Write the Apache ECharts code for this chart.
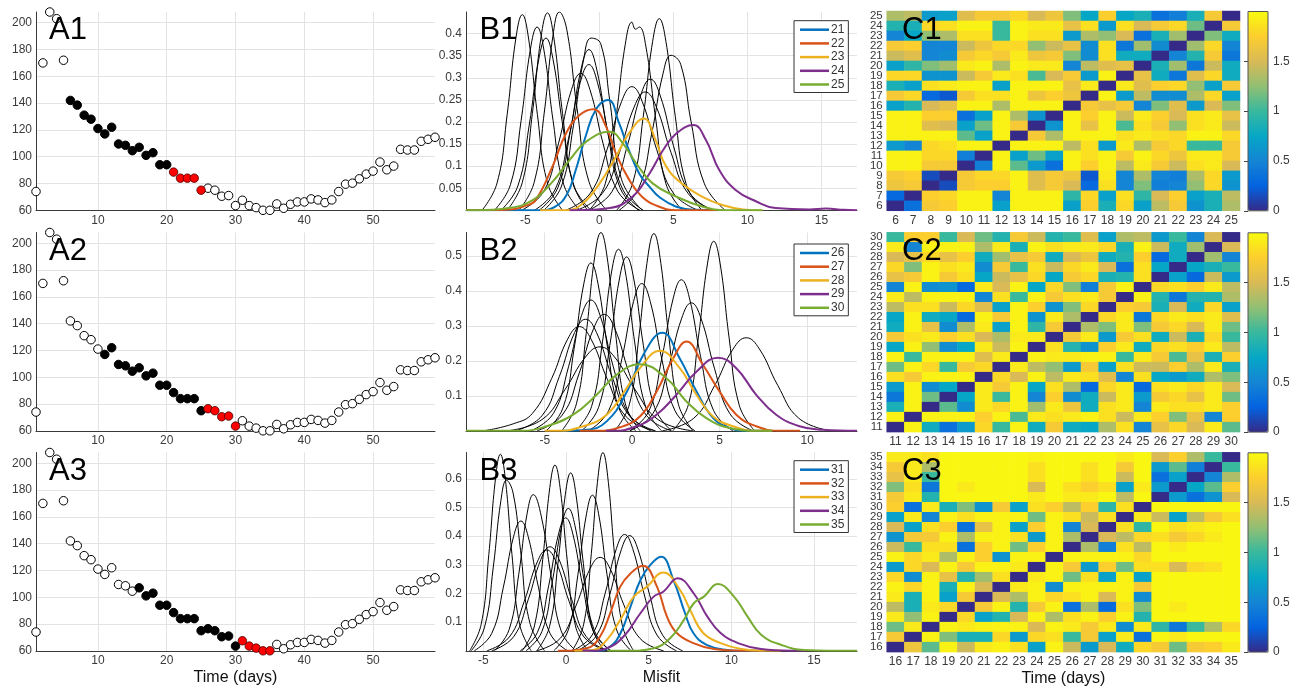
<!DOCTYPE html>
<html><head><meta charset="utf-8">
<script src="https://cdn.jsdelivr.net/npm/echarts@6/dist/echarts.min.js"></script>
<style>html,body{margin:0;padding:0;background:#fff}#c{width:1298px;height:692px}</style>
</head><body><div id="c"></div>
<script>
// ---------------- DATA ----------------
const days = [1,2,3,4,5,6,7,8,9,10,11,12,13,14,15,16,17,18,19,20,21,22,23,24,25,26,27,28,29,30,31,32,33,34,35,36,37,38,39,40,41,42,43,44,45,46,47,48,49,50,51,52,53,54,55,56,57,58,59];
const counts = [74,170,208,203,172,142,138.5,131,128,121,117,122,109.5,108.5,104.5,107,101,103,94,94,88.5,84,84,84,75,76.5,75,70.5,71,63.5,67.5,63.5,62,60,60,64.75,61.5,64.5,66.25,66.25,68.5,67.75,65.75,67.75,74,79.5,80.25,83.5,87,89.25,96,90.25,93,105.5,105,105,111.5,113,114.5];
const fitWindows = [[6,20],[11,25],[16,30]];
const predWindows = [[21,25],[26,30],[31,35]];
const aXTicks = [10,20,30,40,50];
const aYTicks = [60,80,100,120,140,160,180,200];

const b1Black = [
[[-7.92,0],[-6.9,0.062],[-6.22,0.217],[-5.63,0.39],[-5.2,0.443],[-4.78,0.39],[-4.18,0.217],[-3.5,0.062],[-2.48,0]],
[[-7.08,0],[-6.0,0.058],[-5.28,0.203],[-4.65,0.365],[-4.2,0.415],[-3.75,0.365],[-3.12,0.203],[-2.4,0.058],[-1.32,0]],
[[-6.64,0],[-5.5,0.055],[-4.74,0.191],[-4.08,0.343],[-3.6,0.39],[-3.13,0.343],[-2.46,0.191],[-1.7,0.055],[-0.56,0]],
[[-6.22,0],[-5.2,0.063],[-4.52,0.219],[-3.93,0.393],[-3.5,0.447],[-3.08,0.393],[-2.48,0.219],[-1.8,0.063],[-0.78,0]],
[[-5.42,0],[-4.4,0.063],[-3.72,0.22],[-3.13,0.395],[-2.7,0.449],[-2.2,0.41],[-1.5,0.23],[-0.7,0.065],[0.5,0]],
[[-5.25,0],[-3.75,0.043],[-2.75,0.152],[-1.88,0.273],[-1.25,0.31],[-0.63,0.273],[0.25,0.152],[1.25,0.043],[2.75,0]],
[[-3.75,0],[-2.55,0.055],[-1.75,0.191],[-1.05,0.343],[-0.55,0.39],[0.1,0.377],[0.7,0.25],[1.5,0.07],[2.9,0]],
[[-4.06,0],[-2.8,0.051],[-1.96,0.178],[-1.23,0.32],[-0.7,0.364],[-0.18,0.32],[0.56,0.178],[1.4,0.051],[2.66,0]],
[[-4.38,0],[-3.0,0.046],[-2.08,0.162],[-1.28,0.29],[-0.7,0.33],[-0.13,0.29],[0.68,0.162],[1.6,0.046],[2.98,0]],
[[-0.68,0],[0.4,0.06],[1.12,0.209],[1.75,0.375],[2.2,0.426],[2.45,0.41],[2.7,0.415],[3.15,0.37],[3.8,0.209],[4.5,0.06],[5.6,0]],
[[-2.28,0],[-0.6,0.039],[0.52,0.137],[1.5,0.246],[2.2,0.28],[2.9,0.246],[3.88,0.137],[5.0,0.039],[6.68,0]],
[[-1.54,0],[0.2,0.038],[1.36,0.131],[2.38,0.236],[3.1,0.268],[3.83,0.236],[4.84,0.131],[6.0,0.038],[7.74,0]],
[[-0.71,0],[0.85,0.042],[1.89,0.146],[2.8,0.261],[3.45,0.297],[4.1,0.261],[5.01,0.146],[6.05,0.042],[7.61,0]],
[[1.17,0],[2.25,0.061],[2.97,0.213],[3.6,0.382],[4.05,0.434],[4.5,0.382],[5.13,0.213],[5.85,0.061],[6.93,0]],
[[1.33,0],[2.65,0.049],[3.53,0.172],[4.3,0.309],[4.85,0.351],[5.5,0.33],[6.2,0.2],[7.1,0.06],[8.5,0]]
];
const b1Names = ['21','22','23','24','25'];
const b1Color = [
[[-9,0],[-4,0],[-3,0.008],[-2.2,0.035],[-1.6,0.09],[-0.9,0.17],[-0.2,0.23],[0.6,0.25],[1.35,0.196],[2.0,0.136],[2.7,0.083],[3.4,0.053],[4.05,0.03],[5.2,0.008],[6.5,0.001],[8,0]],
[[-9,0],[-6,0.002],[-5,0.01],[-4.3,0.023],[-3.15,0.1],[-2.25,0.174],[-1.35,0.215],[-0.4,0.229],[0.45,0.19],[1.1,0.13],[2.0,0.07],[2.9,0.03],[4.05,0.008],[5.2,0],[8,0]],
[[-4,0],[-2.25,0],[-1.1,0.016],[0,0.06],[1.1,0.12],[2.0,0.174],[3.0,0.208],[3.8,0.159],[4.5,0.1],[5.6,0.06],[7.0,0.03],[8.3,0.012],[9.7,0.002],[11,0]],
[[-2,0],[-1.6,0],[0.7,0.005],[2.25,0.031],[3.4,0.084],[4.3,0.136],[5.2,0.174],[6.35,0.193],[7.2,0.159],[8.1,0.091],[9.2,0.046],[10.6,0.02],[11.9,0.005],[14.2,0.002],[15.3,0.004],[16.5,0.001],[17.4,0]],
[[-9,0],[-8.3,0],[-6.1,0.005],[-4.5,0.023],[-3.15,0.065],[-2.0,0.114],[-0.9,0.155],[0.7,0.178],[1.6,0.151],[2.5,0.106],[3.6,0.061],[5.2,0.031],[7.0,0.008],[8.6,0],[11,0]]
];

const b2Black = [
[[-4.03,0],[-3.19,0.077],[-2.63,0.278],[-2.14,0.499],[-1.79,0.567],[-1.44,0.499],[-0.95,0.278],[-0.39,0.077],[0.45,0]],
[[-4.92,0],[-3.96,0.065],[-3.32,0.235],[-2.76,0.422],[-2.36,0.48],[-1.96,0.422],[-1.4,0.235],[-0.76,0.065],[0.2,0]],
[[-3.24,0],[-2.32,0.07],[-1.7,0.254],[-1.17,0.457],[-0.78,0.519],[-0.4,0.457],[0.14,0.254],[0.76,0.07],[1.68,0]],
[[-2.88,0],[-1.92,0.067],[-1.28,0.244],[-0.72,0.437],[-0.32,0.497],[0.08,0.437],[0.64,0.244],[1.28,0.067],[2.24,0]],
[[-1.0,0],[-0.16,0.076],[0.4,0.276],[0.89,0.496],[1.24,0.564],[1.59,0.496],[2.08,0.276],[2.64,0.076],[3.48,0]],
[[2.32,0],[3.2,0.073],[3.78,0.266],[4.3,0.477],[4.66,0.542],[5.03,0.477],[5.54,0.266],[6.12,0.073],[7.0,0]],
[[-0.13,0],[0.97,0.058],[1.71,0.212],[2.35,0.38],[2.81,0.432],[3.27,0.38],[3.91,0.212],[4.65,0.058],[5.75,0]],
[[-0.14,0],[1.18,0.049],[2.06,0.179],[2.83,0.322],[3.38,0.366],[3.93,0.322],[4.7,0.179],[5.58,0.049],[6.9,0]],
[[-2.49,0],[-1.35,0.057],[-0.59,0.206],[0.08,0.37],[0.55,0.421],[1.03,0.37],[1.69,0.206],[2.45,0.057],[3.59,0]],
[[-5.78,0],[-4.5,0.05],[-3.64,0.183],[-2.9,0.329],[-2.36,0.374],[-1.83,0.329],[-1.08,0.183],[-0.22,0.05],[1.06,0]],
[[-6.66,0],[-5.16,0.043],[-4.16,0.156],[-3.29,0.281],[-2.66,0.319],[-2.04,0.281],[-1.16,0.156],[-0.16,0.043],[1.34,0]],
[[-8.5,0],[-6.8,0.02],[-5.7,0.05],[-4.6,0.15],[-3.69,0.262],[-3.02,0.298],[-2.35,0.262],[-1.41,0.146],[-0.34,0.04],[1.27,0]],
[[-5.44,0],[-4.0,0.045],[-3.04,0.163],[-2.2,0.293],[-1.6,0.333],[-1.0,0.293],[-0.16,0.163],[0.8,0.045],[2.24,0]],
[[-7.14,0],[-5.16,0.032],[-3.84,0.118],[-2.67,0.211],[-1.84,0.24],[-1.01,0.211],[0.16,0.118],[1.48,0.032],[3.46,0]],
[[1.72,0],[3.52,0.036],[4.72,0.13],[5.77,0.234],[6.52,0.266],[7.27,0.234],[8.32,0.13],[9.52,0.036],[11.32,0]]
];
const b2Names = ['26','27','28','29','30'];
const b2Color = [
[[-4,0],[-2.6,0.003],[-1.46,0.027],[-0.32,0.11],[0.63,0.217],[1.73,0.28],[2.72,0.207],[3.67,0.113],[4.62,0.037],[5.57,0.008],[6.5,0],[8,0]],
[[-3,0],[-2.0,0],[-0.7,0.01],[0.44,0.041],[1.39,0.112],[2.34,0.207],[3.1,0.255],[4.05,0.188],[5.0,0.112],[5.95,0.046],[7.09,0.013],[8.4,0],[9.6,0]],
[[-5,0],[-4.3,0],[-2.8,0.013],[-1.46,0.046],[-0.32,0.122],[0.44,0.179],[1.58,0.229],[2.72,0.179],[3.67,0.103],[4.62,0.041],[5.76,0.013],[7.1,0],[8,0]],
[[-1.5,0],[-1.08,0],[0.25,0.013],[1.39,0.046],[2.53,0.103],[3.67,0.169],[4.9,0.209],[5.95,0.179],[7.09,0.103],[8.23,0.046],[9.56,0.013],[10.9,0.003],[12.85,0]],
[[-9.5,0],[-6.2,0],[-4.9,0.013],[-3.37,0.046],[-2.03,0.103],[-0.9,0.16],[0.44,0.19],[1.96,0.15],[3.1,0.084],[4.24,0.036],[5.57,0.008],[7.3,0],[8,0]]
];

const b3Black = [
[[-5.83,0],[-5.13,0.093],[-4.67,0.336],[-4.26,0.604],[-3.97,0.686],[-3.68,0.604],[-3.27,0.336],[-2.81,0.093],[-2.11,0]],
[[-5.74,0],[-4.94,0.08],[-4.4,0.292],[-3.94,0.524],[-3.6,0.595],[-3.2,0.55],[-2.75,0.35],[-2.2,0.1],[-1.3,0]],
[[-5.55,0],[-4.49,0.061],[-3.79,0.222],[-3.17,0.399],[-2.73,0.453],[-2.29,0.399],[-1.67,0.222],[-0.97,0.061],[0.09,0]],
[[-4.32,0],[-3.44,0.074],[-2.86,0.267],[-2.35,0.48],[-1.98,0.545],[-1.5,0.47],[-0.9,0.26],[-0.3,0.07],[0.6,0]],
[[-2.65,0],[-1.91,0.087],[-1.41,0.318],[-0.98,0.57],[-0.67,0.648],[-0.36,0.57],[0.07,0.318],[0.57,0.087],[1.31,0]],
[[-1.77,0],[-1.0,0.084],[-0.49,0.304],[-0.04,0.546],[0.28,0.621],[0.6,0.546],[1.05,0.304],[1.56,0.084],[2.33,0]],
[[-2.42,0],[-1.46,0.067],[-0.82,0.244],[-0.26,0.437],[0.14,0.497],[0.54,0.437],[1.1,0.244],[1.74,0.067],[2.7,0]],
[[-2.77,0],[-1.74,0.063],[-1.05,0.227],[-0.45,0.408],[-0.02,0.464],[0.41,0.408],[1.01,0.227],[1.7,0.063],[2.73,0]],
[[-4.49,0],[-3.17,0.049],[-2.29,0.178],[-1.52,0.319],[-0.97,0.363],[-0.42,0.319],[0.35,0.178],[1.23,0.049],[2.55,0]],
[[-4.79,0],[-3.43,0.048],[-2.53,0.172],[-1.74,0.31],[-1.17,0.352],[-0.6,0.31],[0.19,0.172],[1.09,0.048],[2.45,0]],
[[-0.74,0],[0.14,0.073],[0.72,0.266],[1.24,0.478],[1.6,0.543],[1.97,0.478],[2.48,0.266],[3.06,0.073],[3.94,0]],
[[0.37,0],[1.07,0.093],[1.53,0.339],[1.94,0.609],[2.23,0.692],[2.52,0.609],[2.93,0.339],[3.39,0.093],[4.09,0]],
[[-1.78,0],[-0.34,0.044],[0.62,0.16],[1.46,0.287],[2.06,0.326],[2.66,0.287],[3.5,0.16],[4.46,0.044],[5.9,0]],
[[0.4,0],[1.58,0.055],[2.36,0.199],[3.05,0.357],[3.54,0.406],[4.03,0.357],[4.72,0.199],[5.5,0.055],[6.68,0]],
[[0.65,0],[1.85,0.054],[2.65,0.197],[3.35,0.354],[3.85,0.402],[4.35,0.354],[5.05,0.197],[5.85,0.054],[7.05,0]]
];
const b3Names = ['31','32','33','34','35'];
const b3Color = [
[[1.0,0],[1.86,0],[2.67,0.015],[3.3,0.062],[3.9,0.154],[4.5,0.247],[5.1,0.3],[5.75,0.328],[6.5,0.247],[7.2,0.131],[7.7,0.062],[8.5,0.021],[9.75,0.003],[10.6,0],[12,0]],
[[-0.5,0],[-0.36,0],[1.26,0.009],[2.06,0.05],[2.67,0.131],[3.28,0.224],[3.9,0.27],[4.64,0.297],[5.5,0.224],[6.1,0.12],[6.7,0.062],[7.7,0.027],[8.95,0.006],[10.6,0],[12,0]],
[[0.5,0],[0.85,0],[1.66,0.003],[2.47,0.038],[3.28,0.108],[4.1,0.189],[4.9,0.224],[5.87,0.273],[6.9,0.212],[7.5,0.143],[8.3,0.062],[9.35,0.027],[10.6,0.006],[11.8,0],[13,0]],
[[1.0,0],[1.46,0],[2.47,0.009],[3.48,0.05],[4.5,0.131],[5.3,0.189],[5.9,0.207],[6.76,0.253],[7.73,0.2],[8.54,0.12],[9.35,0.062],[10.4,0.027],[11.8,0.006],[13.6,0],[14.5,0]],
[[2.5,0],[3.7,0],[5.3,0.009],[6.3,0.044],[7.13,0.108],[7.73,0.166],[8.34,0.189],[9.19,0.233],[10.16,0.189],[10.97,0.12],[11.8,0.056],[13.0,0.021],[14.4,0.003],[17.6,0]]
];
const bColors = ['#0072bd','#d95319','#edb120','#7e2f8e','#77ac30'];
const b1XTicks = [-5,0,5,10,15], b1YTicks = [0.05,0.1,0.15,0.2,0.25,0.3,0.35,0.4];
const b2XTicks = [-5,0,5,10], b2YTicks = [0.1,0.2,0.3,0.4,0.5];
const b3XTicks = [-5,0,5,10,15], b3YTicks = [0.1,0.2,0.3,0.4,0.5,0.6];

// heatmap rows listed from top row to bottom row
const c1Labels = ['6','7','8','9','10','11','12','13','14','15','16','17','18','19','20','21','22','23','24','25'];
const c1Rows = [
[1.35,1.4,0.65,0.7,1.55,1.7,1.7,1.8,1.5,1.65,1.2,0.75,1.75,0.75,0.85,0.35,0.45,0.85,1.7,0],
[0.9,0.85,1.8,1.85,1.95,1.95,1.0,1.95,1.9,1.9,1.6,1.85,0.65,1.85,1.5,1.7,1.8,1.15,0,1.7],
[0.5,0.75,1.25,1.35,1.85,1.85,1.0,1.95,1.85,1.85,0.65,1.35,1.25,1.5,0.35,0.85,1.3,0,1.2,0.8],
[1.7,1.75,0.5,0.5,1.45,1.65,1.8,1.8,1.25,1.45,1.6,0.55,1.85,0.4,1.3,0.55,0,1.3,1.8,0.5],
[1.45,1.55,0.5,0.55,1.7,1.8,1.7,1.9,1.65,1.7,1.2,0.55,1.85,0.8,0.8,0,0.5,0.9,1.7,0.4],
[0.7,0.95,1.2,1.3,1.9,1.95,1.35,1.95,1.9,1.9,0.5,1.4,1.55,1.6,0,0.85,1.3,0.4,1.45,0.8],
[1.8,1.8,0.6,0.6,1.45,1.7,1.9,1.85,1.05,1.5,1.7,0.65,1.95,0,1.6,0.8,0.4,1.55,1.8,0.8],
[0.85,0.7,1.85,1.9,1.95,1.95,0.7,1.95,1.95,1.95,1.6,1.9,0,1.9,1.55,1.75,1.8,1.25,0.7,1.7],
[1.7,1.8,0.3,0.2,1.7,1.85,1.85,1.95,1.65,1.75,1.65,0,1.95,0.65,1.4,0.55,0.55,1.35,1.8,0.7],
[0.7,0.9,1.5,1.6,1.95,1.95,1.35,1.95,1.95,1.95,0,1.7,1.6,1.7,0.5,1.2,1.55,0.65,1.5,1.2],
[1.95,1.95,1.75,1.75,0.35,0.7,1.95,1.35,0.6,0,1.95,1.75,1.95,1.45,1.9,1.75,1.5,1.85,1.9,1.6],
[1.95,1.95,1.55,1.5,0.7,1.15,1.95,1.7,0,0.6,1.95,1.6,1.95,1.05,1.85,1.7,1.25,1.85,1.9,1.45],
[1.95,1.95,1.95,1.95,1.1,0.7,1.95,0,1.7,1.35,1.95,1.95,1.95,1.85,1.9,1.85,1.8,1.95,1.95,1.8],
[0.65,0.5,1.8,1.85,1.95,1.95,0,1.95,1.95,1.95,1.4,1.85,0.65,1.9,1.35,1.7,1.8,1.0,1.0,1.7],
[1.95,1.95,1.8,1.8,0.45,0,1.95,0.7,1.15,0.7,1.95,1.85,1.95,1.7,1.95,1.8,1.65,1.9,1.9,1.7],
[1.95,1.95,1.7,1.7,0,0.45,1.95,1.1,0.65,0.35,1.95,1.75,1.95,1.4,1.9,1.7,1.45,1.85,1.9,1.5],
[1.7,1.75,0.15,0,1.7,1.8,1.8,1.95,1.55,1.7,1.65,0.2,1.9,0.5,1.35,0.5,0.45,1.35,1.8,0.65],
[1.65,1.7,0,0.15,1.7,1.75,1.75,1.95,1.55,1.7,1.5,0.3,1.85,0.5,1.2,0.45,0.5,1.25,1.8,0.6],
[0.3,0,1.75,1.8,1.95,1.95,0.5,1.95,1.95,1.95,0.95,1.8,0.7,1.85,0.95,1.5,1.75,0.7,0.85,1.4],
[0,0.35,1.7,1.75,1.95,1.95,0.7,1.95,1.95,1.95,0.7,1.75,0.85,1.8,0.7,1.4,1.7,0.6,0.85,1.35]
];
const c2Labels = ['11','12','13','14','15','16','17','18','19','20','21','22','23','24','25','26','27','28','29','30'];
const c2Rows = [
[1.0,1.75,1.75,1.0,1.5,1.15,0.9,1.7,1.45,0.9,1.0,1.55,0.7,1.35,1.4,0.65,1.0,0.5,1.5,0],
[1.9,0.5,1.95,1.95,1.95,1.35,1.9,0.85,1.95,1.85,1.9,1.9,1.8,0.85,1.95,1.45,0.8,1.3,0,1.5],
[1.5,1.6,1.8,1.6,1.75,0.8,1.3,1.6,1.7,0.8,1.5,1.65,0.8,0.9,1.75,0.3,0.8,0,1.3,0.5],
[1.8,1.2,1.95,1.85,1.9,0.55,1.7,1.0,1.85,1.45,1.8,1.9,1.5,0.35,1.85,0.75,0,0.75,0.85,1.0],
[1.6,1.7,1.95,1.7,1.85,0.75,1.45,1.6,1.8,0.75,1.7,1.8,0.85,0.9,1.85,0,0.7,0.3,1.45,0.65],
[0.5,1.95,0.55,0.6,0.3,1.9,1.5,1.95,0.75,1.8,1.2,0.45,1.7,1.95,0,1.8,1.85,1.75,1.9,1.4],
[1.9,1.4,1.95,1.95,1.95,0.5,1.85,1.0,1.95,1.7,1.85,1.9,1.7,0,1.95,0.9,0.4,0.9,0.9,1.35],
[1.4,1.85,1.85,1.45,1.8,1.55,0.7,1.95,1.75,0.6,1.2,1.8,0,1.75,1.7,0.85,1.5,0.8,1.8,0.7],
[0.75,1.95,0.8,0.75,0.3,1.95,1.7,1.95,0.6,1.9,1.35,0,1.8,1.9,0.4,1.8,1.9,1.85,1.9,1.55],
[0.8,1.95,1.6,0.55,1.35,1.9,0.7,1.95,0.95,1.7,0,1.35,1.2,1.9,1.2,1.7,1.8,1.5,1.9,1.15],
[1.7,1.85,1.9,1.75,1.85,1.5,1.35,1.9,1.9,0,1.7,1.9,0.65,1.7,1.85,0.8,1.45,0.85,1.8,1.0],
[0.75,1.95,1.25,0.55,0.75,1.9,1.45,1.95,0,1.85,0.9,0.6,1.75,1.9,0.8,1.8,1.85,1.75,1.9,1.4],
[1.95,1.0,1.95,1.95,1.95,1.55,1.9,0,1.95,1.9,1.9,1.95,1.95,1.0,1.9,1.7,1.05,1.6,0.85,1.75],
[1.15,1.95,1.8,1.0,1.7,1.8,0,1.9,1.4,1.25,0.65,1.7,0.7,1.85,1.45,1.45,1.75,1.35,1.9,0.85],
[1.85,1.7,1.95,1.95,1.95,0,1.8,1.5,1.95,1.4,1.9,1.85,1.55,0.5,1.85,0.75,0.65,0.8,1.35,1.2],
[0.65,1.95,0.55,0.75,0,1.9,1.7,1.95,0.75,1.85,1.35,0.3,1.8,1.9,0.3,1.85,1.9,1.8,1.9,1.5],
[0.4,1.95,1.15,0,0.75,1.9,1.0,1.95,0.5,1.75,0.55,0.8,1.45,1.9,0.65,1.7,1.8,1.6,1.9,1.15],
[0.85,1.95,0,1.1,0.55,1.9,1.8,1.95,1.3,1.9,1.65,0.8,1.85,1.9,0.5,1.9,1.85,1.85,1.9,1.75],
[1.95,0,1.95,1.95,1.95,1.75,1.95,1.05,1.9,1.85,1.9,1.95,1.85,1.45,1.9,1.75,1.2,1.6,0.5,1.75],
[0,1.95,0.8,0.35,0.65,1.8,1.0,1.95,0.8,1.7,0.8,0.75,1.35,1.85,0.5,1.6,1.8,1.5,1.9,1.1]
];
const c3Labels = ['16','17','18','19','20','21','22','23','24','25','26','27','28','29','30','31','32','33','34','35'];
const c3Rows = [
[1.9,1.9,1.85,1.97,1.97,1.97,1.97,1.97,1.95,1.97,1.97,1.97,1.97,1.9,1.97,1.5,1.75,1.35,1.0,0],
[1.7,1.9,1.35,1.97,1.97,1.97,1.97,1.97,1.85,1.97,1.97,1.85,1.97,1.7,1.97,0.65,1.1,0.45,0,1.0],
[1.6,1.9,1.0,1.97,1.97,1.97,1.97,1.97,1.85,1.97,1.97,1.85,1.97,1.45,1.97,0.35,0.7,0,0.5,1.35],
[1.2,1.85,0.4,1.97,1.9,1.97,1.97,1.97,1.5,1.97,1.85,1.75,1.85,0.7,1.9,0.65,0,0.75,1.1,1.75],
[1.7,1.9,0.9,1.97,1.97,1.97,1.97,1.97,1.9,1.97,1.9,1.9,1.97,1.4,1.97,0,0.65,0.35,0.6,1.5],
[1.75,0.35,1.9,0.85,1.2,0.6,1.7,0.7,1.85,1.75,1.4,1.75,0.95,1.85,0,1.97,1.97,1.97,1.97,1.97],
[0.7,1.9,0.5,1.95,1.85,1.95,1.95,1.95,1.15,1.95,1.85,1.45,1.85,0,1.9,1.45,0.7,1.4,1.7,1.85],
[1.5,0.7,1.85,1.75,0.35,1.6,1.95,0.7,1.75,1.95,0.5,1.5,0,1.85,0.95,1.97,1.85,1.9,1.95,1.97],
[0.6,1.7,1.7,1.95,1.35,1.95,1.95,1.85,0.65,1.95,1.35,0,1.5,1.4,1.8,1.85,1.7,1.8,1.9,1.97],
[1.45,1.0,1.85,1.85,0.35,1.75,1.95,1.15,1.75,1.95,0,1.35,0.45,1.85,1.4,1.97,1.9,1.97,1.97,1.97],
[1.95,1.8,1.9,1.35,1.95,1.75,0.6,1.95,1.95,0,1.95,1.95,1.95,1.95,1.8,1.97,1.97,1.97,1.97,1.97],
[0.65,1.8,1.5,1.95,1.7,1.95,1.95,1.9,0,1.95,1.7,0.65,1.75,1.15,1.85,1.85,1.5,1.8,1.85,1.97],
[1.8,0.55,1.95,1.6,0.9,1.3,1.85,0,1.9,1.95,1.15,1.85,0.7,1.95,0.7,1.97,1.97,1.97,1.97,1.97],
[1.95,1.8,1.95,0.85,1.95,1.5,0,1.9,1.95,0.55,1.95,1.95,1.95,1.95,1.7,1.97,1.97,1.97,1.97,1.97],
[1.9,0.85,1.95,0.7,1.7,0,1.5,1.35,1.95,1.8,1.85,1.95,1.5,1.95,0.55,1.97,1.97,1.97,1.97,1.97],
[1.4,0.85,1.9,1.8,0,1.7,1.95,0.9,1.7,1.95,0.35,1.35,0.3,1.85,1.2,1.97,1.9,1.97,1.97,1.97],
[1.9,1.25,1.95,0,1.8,0.7,0.9,1.5,1.95,1.35,1.85,1.95,1.75,1.95,0.9,1.97,1.97,1.97,1.97,1.97],
[1.15,1.9,0,1.95,1.9,1.95,1.95,1.95,1.5,1.95,1.9,1.7,1.9,0.55,1.9,0.95,0.4,1.0,1.35,1.8],
[1.7,0,1.95,1.2,0.85,0.85,1.8,0.65,1.8,1.85,1.0,1.7,0.7,1.9,0.35,1.97,1.9,1.97,1.97,1.97],
[0,1.65,1.1,1.95,1.45,1.9,1.95,1.85,0.7,1.95,1.45,0.65,1.5,0.8,1.8,1.7,1.15,1.7,1.75,1.9]
];
const cbTicks = [0,0.5,1,1.5];

// ---------------- CHART ----------------
const FONT = '"Liberation Sans", Arial, Helvetica, sans-serif';
const parula = ['#352a87','#0363e1','#1485d4','#06a7c6','#38b99e','#92bf73','#d9ba56','#fcce2e','#f9fb0e'];
const grids = [], xAxes = [], yAxes = [], series = [], legends = [], titles = [], visualMaps = [];
const rowTop = [12, 232.5, 452.5], rowH = 198.3;
const cTop = [11, 232.3, 452.3], cH = 199.8;
const lblStyle = {color:'#3a3a3a', fontSize:12, fontFamily:FONT};
const axLine = {show:true, onZero:false, lineStyle:{color:'#3a3a3a', width:1}};
const split = {show:true, lineStyle:{color:'#e3e3e3', width:1}};

function addGrid(g){ grids.push(Object.assign({containLabel:false, outerBoundsMode:'none'}, g)); return grids.length-1; }
function valAxis(gi, min, max, ticks, labels, extra){
  return Object.assign({type:'value', gridIndex:gi, min:min, max:max, axisLine:axLine,
    axisTick:{show:false, customValues:ticks}, splitLine:split,
    axisLabel:Object.assign({customValues:labels, margin:4}, lblStyle)}, extra||{});
}
function nameOpt(name){ return {name:name, nameLocation:'middle', nameGap:19, nameTextStyle:{fontSize:16, color:'#111', fontFamily:FONT}}; }
function addTitle(t, left, top){ titles.push({text:t, left:left, top:top, padding:0, textStyle:{fontSize:31, fontWeight:'normal', color:'#000', fontFamily:FONT}}); }

// A panels
for (let p=0;p<3;p++){
  const gi = addGrid({left:36, top:rowTop[p], width:399, height:rowH});
  xAxes.push(valAxis(gi,1,59,aXTicks,aXTicks, p===2?nameOpt('Time (days)'):{}));
  yAxes.push(valAxis(gi,60,208,aYTicks,aYTicks));
  const hollow=[], black=[], red=[];
  days.forEach((d,i)=>{
    const pt=[d,counts[i]];
    if (d>=fitWindows[p][0] && d<=fitWindows[p][1]) black.push(pt);
    else if (d>=predWindows[p][0] && d<=predWindows[p][1]) red.push(pt);
    else hollow.push(pt);
  });
  const base = {type:'scatter', xAxisIndex:gi, yAxisIndex:gi, symbol:'circle', symbolSize:8.5, silent:true, clip:false};
  series.push(Object.assign({}, base, {data:hollow, itemStyle:{color:'#fff', borderColor:'#000', borderWidth:1, opacity:1}}));
  series.push(Object.assign({}, base, {data:black, itemStyle:{color:'#000', borderColor:'#000', borderWidth:1, opacity:1}}));
  series.push(Object.assign({}, base, {data:red, itemStyle:{color:'#ff0000', borderColor:'#400', borderWidth:0.8, opacity:1}}));
  addTitle('A'+(p+1), 49, rowTop[p]+3);
}

// B panels
const bSets = [
  {black:b1Black, color:b1Color, names:b1Names, x:[-9,17.4], y:0.449, xt:b1XTicks, yt:b1YTicks, legTop:20.7},
  {black:b2Black, color:b2Color, names:b2Names, x:[-9.5,12.85], y:0.567, xt:b2XTicks, yt:b2YTicks, legTop:244},
  {black:b3Black, color:b3Color, names:b3Names, x:[-6.05,17.6], y:0.692, xt:b3XTicks, yt:b3YTicks, legTop:460.7}
];
bSets.forEach((s,p)=>{
  const gi = addGrid({left:466, top:rowTop[p], width:391, height:rowH});
  xAxes.push(valAxis(gi,s.x[0],s.x[1],s.xt,s.xt, p===2?nameOpt('Misfit'):{}));
  yAxes.push(valAxis(gi,0,s.y,[0].concat(s.yt),s.yt));
  s.black.forEach(c=>series.push({type:'line', xAxisIndex:gi, yAxisIndex:gi, data:c, smooth:0.45, showSymbol:false, silent:true,
    lineStyle:{color:'#000', width:1}, itemStyle:{color:'#000'}}));
  s.color.forEach((c,k)=>series.push({type:'line', name:s.names[k], xAxisIndex:gi, yAxisIndex:gi, data:c, smooth:0.45, showSymbol:false, silent:true,
    lineStyle:{color:bColors[k], width:2}, itemStyle:{color:bColors[k]}}));
  legends.push({data:s.names, left:794, top:s.legTop, orient:'vertical', icon:'rect', itemWidth:29, itemHeight:2.5, itemGap:1.7,
    padding:[3,4,2,6], backgroundColor:'#fff', borderColor:'#333', borderWidth:1, borderRadius:0, selectedMode:false,
    textStyle:{fontSize:12, color:'#333', fontFamily:FONT, padding:[0,0,0,-3]}});
  addTitle('B'+(p+1), 479.5, rowTop[p]+3);
});

// C panels
const cSets = [{rows:c1Rows, labels:c1Labels},{rows:c2Rows, labels:c2Labels},{rows:c3Rows, labels:c3Labels}];
cSets.forEach((s,p)=>{
  const gi = addGrid({left:886.7, top:cTop[p], width:353.3, height:cH});
  xAxes.push(Object.assign({type:'category', gridIndex:gi, data:s.labels, axisLine:{show:false}, axisTick:{show:false}, splitLine:{show:false},
    axisLabel:Object.assign({interval:0, margin:4}, lblStyle)}, p===2?Object.assign(nameOpt('Time (days)'),{nameGap:18}):{}));
  yAxes.push({type:'category', gridIndex:gi, data:s.labels, axisLine:{show:false}, axisTick:{show:false}, splitLine:{show:false},
    axisLabel:Object.assign({interval:0, margin:4}, lblStyle, {fontSize:11.5})});
  const n = s.labels.length, data=[];
  s.rows.forEach((row,i)=>row.forEach((v,j)=>data.push([j, n-1-i, v])));
  const si = series.length;
  series.push({type:'heatmap', xAxisIndex:gi, yAxisIndex:gi, data:data, itemStyle:{borderWidth:0}, emphasis:{disabled:true}, silent:true, progressive:0});
  visualMaps.push({type:'continuous', seriesIndex:si, min:0, max:2, inRange:{color:parula}, calculable:false, show:true,
    left:1248, top:cTop[p]+0.5, itemWidth:20, itemHeight:cH-0.5, padding:0, text:null, hoverLink:false, realtime:false});
  // colourbar axis
  const cg = addGrid({left:1248, top:cTop[p]+0.5, width:20, height:cH-0.5, show:true, z:10, backgroundColor:'transparent', borderColor:'#555', borderWidth:1});
  xAxes.push({type:'value', gridIndex:cg, min:0, max:1, show:false});
  yAxes.push({type:'value', gridIndex:cg, min:0, max:2, position:'right', axisLine:{show:false}, splitLine:{show:false},
    axisTick:{show:true, inside:true, length:4, customValues:cbTicks, lineStyle:{color:'#444'}},
    axisLabel:Object.assign({customValues:cbTicks, margin:5}, lblStyle)});
  series.push({type:'scatter', xAxisIndex:cg, yAxisIndex:cg, data:[], silent:true});
  addTitle('C'+(p+1), 902, cTop[p]+4);
});

const chart = echarts.init(document.getElementById('c'), null, {renderer:'canvas'});
chart.setOption({
  animation:false, backgroundColor:'#fff', textStyle:{fontFamily:FONT},
  title:titles, grid:grids, xAxis:xAxes, yAxis:yAxes, legend:legends, visualMap:visualMaps, series:series
});
</script></body></html>
